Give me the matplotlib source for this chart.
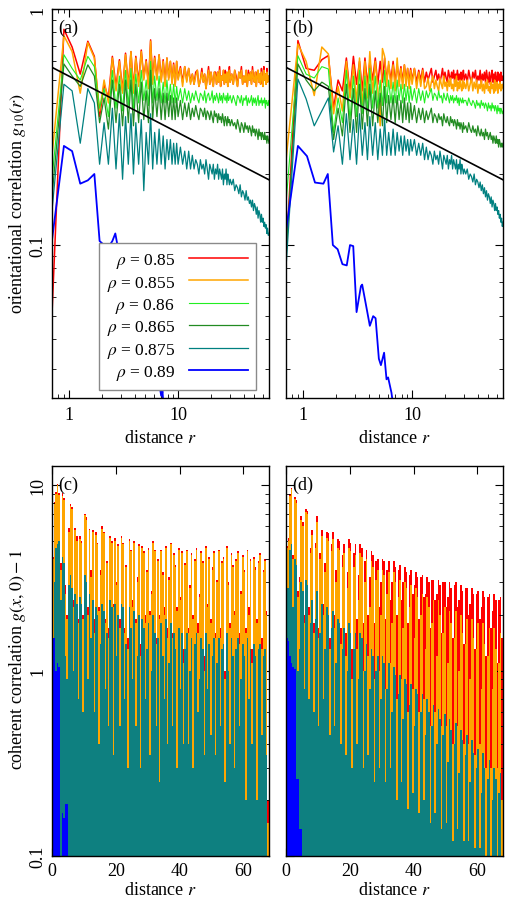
"""
Orientational and coherent correlations for several densities rho.
Four panels: (a),(b) g10(r) on log-log axes, (c),(d) g(x,0)-1 as impulses.
"""

import numpy as np
import matplotlib
matplotlib.use("Agg")
import matplotlib.pyplot as plt
from matplotlib.ticker import LogLocator, NullFormatter

plt.rcParams["font.family"] = ["Liberation Serif", "DejaVu Serif"]
plt.rcParams["mathtext.fontset"] = "stix"
plt.rcParams["font.size"] = 13

# ── Series styling ────────────────────────────────────────────────────────────
RHO    = ["0.85", "0.855", "0.86", "0.865", "0.875", "0.89"]
COLORS = ["#ff0000", "#ffa500", "#22ee22", "#228b22", "#008080", "#0000ff"]
LWS    = [1.1, 1.1, 0.8, 0.9, 0.9, 1.3]

# ── Top panels: g10(r) ───────────────────────────────────────────────────────
R = [0.7, 0.9, 1.07, 1.27, 1.49, 1.71, 1.91,
     2.1, 2.3, 2.5, 2.7, 2.9, 3.1, 3.3, 3.5, 3.7, 3.9, 4.1,
     4.35, 4.6, 4.85, 5.1, 5.35, 5.6, 5.85, 6.1,
     6.4, 6.7, 7.0, 7.3, 7.6, 7.9, 8.2, 8.5, 8.8, 9.1, 9.4, 9.7, 10.0,
     10.5, 11, 11.5, 12, 12.5, 13,
     13.5, 14, 14.5, 15, 15.5, 16, 16.5, 17, 17.5, 18, 18.5, 19, 19.5, 20, 20.5, 21, 21.5,
     22, 22.5, 23, 23.5, 24, 24.5, 25, 25.5, 26, 26.5, 27, 27.5, 28, 28.5, 29, 29.5, 30,
     31, 32, 33, 34, 35, 36, 37, 38, 39, 40, 41, 42, 43, 44, 45, 46, 47, 48, 49,
     50, 51, 52, 53, 54, 55, 56, 57, 58, 59, 60, 61, 62, 63, 64, 65, 66, 67, 68]

# panel (a)
G_A_085 = [0.051, 0.82, 0.69, 0.53, 0.73, 0.63, 0.35,
           0.48, 0.42, 0.63, 0.47, 0.61, 0.45, 0.65, 0.47, 0.66, 0.46, 0.63,
           0.49, 0.67, 0.51, 0.61, 0.48, 0.74, 0.50, 0.63,
           0.51, 0.64, 0.50, 0.61, 0.49, 0.62, 0.51, 0.60, 0.49, 0.59, 0.48, 0.60, 0.51,
           0.57, 0.49, 0.57, 0.50, 0.56, 0.49,
           0.53, 0.48, 0.54, 0.55, 0.47, 0.50, 0.56, 0.49, 0.53, 0.46, 0.51, 0.57, 0.48, 0.54, 0.50, 0.47, 0.54,
           0.54, 0.48, 0.54, 0.49, 0.57, 0.47, 0.52, 0.50, 0.55, 0.48, 0.55, 0.49, 0.54, 0.47, 0.52, 0.57, 0.49,
           0.53, 0.48, 0.55, 0.52, 0.47, 0.54, 0.51, 0.57, 0.48, 0.52, 0.49, 0.55, 0.47, 0.55, 0.50, 0.54, 0.48, 0.57, 0.51,
           0.49, 0.54, 0.47, 0.54, 0.55, 0.49, 0.53, 0.48, 0.56, 0.51, 0.47, 0.57, 0.50, 0.53, 0.48, 0.56, 0.49, 0.52, 0.50]
G_A_0855 = [0.24, 0.77, 0.66, 0.44, 0.72, 0.62, 0.37,
            0.50, 0.40, 0.62, 0.45, 0.60, 0.44, 0.64, 0.46, 0.66, 0.44, 0.62,
            0.47, 0.66, 0.50, 0.60, 0.46, 0.73, 0.48, 0.62,
            0.50, 0.64, 0.49, 0.60, 0.47, 0.62, 0.50, 0.60, 0.48, 0.58, 0.47, 0.60, 0.50,
            0.56, 0.47, 0.57, 0.49, 0.56, 0.48,
            0.53, 0.48, 0.52, 0.55, 0.47, 0.50, 0.54, 0.49, 0.53, 0.46, 0.51, 0.55, 0.48, 0.54, 0.50, 0.47, 0.54,
            0.52, 0.48, 0.54, 0.49, 0.55, 0.47, 0.52, 0.50, 0.55, 0.48, 0.53, 0.49, 0.54, 0.47, 0.52, 0.55, 0.49,
            0.53, 0.48, 0.55, 0.50, 0.47, 0.54, 0.51, 0.55, 0.48, 0.52, 0.49, 0.55, 0.47, 0.53, 0.50, 0.54, 0.48, 0.55, 0.51,
            0.49, 0.54, 0.47, 0.52, 0.55, 0.49, 0.53, 0.48, 0.54, 0.51, 0.47, 0.55, 0.50, 0.53, 0.48, 0.54, 0.49, 0.52, 0.50]
G_A_086 = [0.19, 0.64, 0.56, 0.50, 0.63, 0.57, 0.38,
           0.46, 0.35, 0.55, 0.38, 0.52, 0.37, 0.55, 0.39, 0.56, 0.38, 0.53,
           0.40, 0.55, 0.41, 0.50, 0.39, 0.60, 0.40, 0.52,
           0.41, 0.52, 0.40, 0.49, 0.40, 0.50, 0.41, 0.48, 0.40, 0.48, 0.40, 0.47, 0.41,
           0.46, 0.40, 0.46, 0.41, 0.45, 0.40,
           0.44, 0.41, 0.45, 0.42, 0.40, 0.44, 0.43, 0.41, 0.45, 0.40, 0.43, 0.44, 0.41, 0.42, 0.45, 0.40, 0.43,
           0.41, 0.44, 0.42, 0.40, 0.44, 0.41, 0.43, 0.40, 0.44, 0.42, 0.41, 0.43, 0.40, 0.44, 0.41, 0.42, 0.43,
           0.40, 0.43, 0.41, 0.39, 0.43, 0.42, 0.40, 0.43, 0.39, 0.42, 0.41, 0.43, 0.39, 0.42, 0.40, 0.41, 0.43, 0.39, 0.42,
           0.40, 0.42, 0.39, 0.41, 0.43, 0.39, 0.41, 0.40, 0.42, 0.39, 0.41, 0.40, 0.42, 0.38, 0.41, 0.40, 0.39, 0.41, 0.39]
G_A_0865 = [0.16, 0.585, 0.52, 0.47, 0.58, 0.52, 0.33,
            0.42, 0.31, 0.50, 0.33, 0.48, 0.32, 0.50, 0.33, 0.50, 0.32, 0.48,
            0.33, 0.49, 0.34, 0.45, 0.33, 0.55, 0.34, 0.46,
            0.35, 0.46, 0.34, 0.44, 0.34, 0.44, 0.35, 0.43, 0.34, 0.42, 0.34, 0.42, 0.35,
            0.41, 0.34, 0.40, 0.35, 0.40, 0.34,
            0.38, 0.35, 0.39, 0.36, 0.34, 0.38, 0.37, 0.35, 0.38, 0.34, 0.37, 0.36, 0.34, 0.37, 0.35, 0.33, 0.37,
            0.35, 0.36, 0.33, 0.36, 0.34, 0.35, 0.33, 0.36, 0.34, 0.32, 0.35, 0.34, 0.32, 0.35, 0.33, 0.34, 0.32,
            0.34, 0.32, 0.33, 0.31, 0.34, 0.32, 0.30, 0.33, 0.32, 0.30, 0.33, 0.31, 0.32, 0.30, 0.32, 0.31, 0.29, 0.32, 0.30,
            0.31, 0.29, 0.31, 0.30, 0.28, 0.31, 0.29, 0.30, 0.28, 0.30, 0.29, 0.28, 0.30, 0.28, 0.29, 0.27, 0.29, 0.28, 0.27]
G_A_0875 = [0.14, 0.48, 0.45, 0.27, 0.46, 0.40, 0.22,
            0.33, 0.22, 0.38, 0.21, 0.36, 0.19, 0.35, 0.22, 0.36, 0.20, 0.33,
            0.22, 0.34, 0.17, 0.30, 0.22, 0.36, 0.21, 0.30,
            0.22, 0.31, 0.22, 0.29, 0.21, 0.28, 0.23, 0.28, 0.22, 0.27, 0.22, 0.27, 0.22,
            0.26, 0.22, 0.25, 0.21, 0.25, 0.21,
            0.24, 0.21, 0.23, 0.22, 0.20, 0.23, 0.21, 0.22, 0.20, 0.23, 0.21, 0.19, 0.22, 0.21, 0.20, 0.22, 0.19,
            0.21, 0.20, 0.22, 0.19, 0.21, 0.20, 0.19, 0.21, 0.18, 0.20, 0.19, 0.21, 0.18, 0.20, 0.19, 0.18, 0.19,
            0.18, 0.19, 0.17, 0.18, 0.175, 0.165, 0.18, 0.16, 0.17, 0.165, 0.155, 0.17, 0.155, 0.16, 0.15, 0.155, 0.145, 0.155, 0.14,
            0.15, 0.145, 0.135, 0.145, 0.13, 0.14, 0.135, 0.125, 0.135, 0.125, 0.13, 0.12, 0.125, 0.118, 0.122, 0.112, 0.118, 0.11, 0.112]
R_A_089 = [0.7, 0.9, 1.07, 1.27, 1.49, 1.71, 1.91, 2.1, 2.3, 2.5, 2.66, 2.9, 3.1, 3.4,
           3.7, 4.0, 4.4, 4.8, 5.2, 5.6, 6.0, 6.4, 6.85, 7.0, 7.2, 7.5]
G_A_089 = [0.105, 0.263, 0.25, 0.182, 0.188, 0.2, 0.104, 0.1, 0.098, 0.104, 0.112, 0.09, 0.075, 0.08,
           0.062, 0.058, 0.05, 0.045, 0.04, 0.036, 0.032, 0.028, 0.0245, 0.023, 0.024, 0.018]

# panel (b)
G_B_085 = [0.09, 0.735, 0.56, 0.55, 0.61, 0.635, 0.38,
           0.50, 0.45, 0.62, 0.44, 0.63, 0.48, 0.60, 0.45, 0.62, 0.48, 0.60,
           0.50, 0.62, 0.48, 0.60, 0.49, 0.62, 0.50, 0.58,
           0.50, 0.60, 0.49, 0.58, 0.50, 0.57, 0.49, 0.58, 0.50, 0.56, 0.49, 0.56, 0.50,
           0.56, 0.49, 0.55, 0.50, 0.56, 0.49,
           0.54, 0.50, 0.53, 0.56, 0.49, 0.52, 0.55, 0.50, 0.53, 0.49, 0.52, 0.56, 0.50, 0.54, 0.51, 0.49, 0.55,
           0.52, 0.50, 0.54, 0.51, 0.55, 0.49, 0.53, 0.51, 0.55, 0.50, 0.53, 0.49, 0.54, 0.50, 0.52, 0.55, 0.50,
           0.53, 0.49, 0.55, 0.51, 0.49, 0.54, 0.51, 0.55, 0.49, 0.52, 0.50, 0.55, 0.48, 0.53, 0.50, 0.54, 0.49, 0.55, 0.51,
           0.49, 0.54, 0.48, 0.52, 0.55, 0.49, 0.53, 0.48, 0.54, 0.51, 0.48, 0.54, 0.50, 0.53, 0.49, 0.54, 0.50, 0.52, 0.50]
G_B_0855 = [0.228, 0.71, 0.60, 0.43, 0.69, 0.645, 0.36,
            0.47, 0.37, 0.60, 0.42, 0.58, 0.40, 0.62, 0.38, 0.60, 0.42, 0.66,
            0.44, 0.60, 0.46, 0.32, 0.68, 0.63, 0.47, 0.60,
            0.46, 0.58, 0.45, 0.62, 0.47, 0.56, 0.46, 0.58, 0.47, 0.56, 0.46, 0.55, 0.48,
            0.56, 0.46, 0.54, 0.47, 0.55, 0.46,
            0.47, 0.51, 0.45, 0.49, 0.52, 0.46, 0.50, 0.47, 0.45, 0.51, 0.48, 0.46, 0.52, 0.47, 0.49, 0.45, 0.50,
            0.47, 0.51, 0.46, 0.48, 0.45, 0.50, 0.47, 0.52, 0.45, 0.49, 0.46, 0.50, 0.47, 0.45, 0.50, 0.46, 0.49,
            0.46, 0.50, 0.45, 0.48, 0.51, 0.45, 0.49, 0.46, 0.50, 0.44, 0.48, 0.46, 0.50, 0.45, 0.48, 0.44, 0.49, 0.46, 0.50,
            0.45, 0.47, 0.44, 0.49, 0.46, 0.48, 0.44, 0.50, 0.45, 0.47, 0.49, 0.44, 0.48, 0.46, 0.49, 0.45, 0.47, 0.48, 0.46]
G_B_086 = [0.15, 0.634, 0.53, 0.51, 0.57, 0.557, 0.30,
           0.42, 0.33, 0.55, 0.34, 0.52, 0.35, 0.55, 0.36, 0.52, 0.37, 0.56,
           0.38, 0.52, 0.38, 0.50, 0.39, 0.55, 0.40, 0.50,
           0.40, 0.49, 0.40, 0.50, 0.41, 0.48, 0.40, 0.48, 0.41, 0.47, 0.40, 0.47, 0.41,
           0.46, 0.40, 0.46, 0.41, 0.45, 0.40,
           0.45, 0.42, 0.44, 0.46, 0.41, 0.44, 0.43, 0.41, 0.45, 0.42, 0.43, 0.40, 0.44, 0.42, 0.41, 0.44, 0.42,
           0.40, 0.43, 0.41, 0.43, 0.40, 0.42, 0.41, 0.43, 0.40, 0.42, 0.39, 0.42, 0.41, 0.40, 0.42, 0.40, 0.41,
           0.41, 0.39, 0.42, 0.40, 0.39, 0.41, 0.40, 0.38, 0.41, 0.39, 0.40, 0.38, 0.41, 0.39, 0.40, 0.38, 0.40, 0.39, 0.37,
           0.40, 0.38, 0.39, 0.37, 0.40, 0.38, 0.39, 0.37, 0.39, 0.38, 0.36, 0.39, 0.37, 0.38, 0.36, 0.38, 0.37, 0.36, 0.37]
G_B_0865 = [0.09, 0.585, 0.50, 0.45, 0.49, 0.47, 0.28,
            0.38, 0.29, 0.48, 0.30, 0.46, 0.30, 0.48, 0.31, 0.46, 0.32, 0.48,
            0.32, 0.45, 0.33, 0.44, 0.32, 0.47, 0.33, 0.43,
            0.34, 0.43, 0.33, 0.43, 0.34, 0.41, 0.33, 0.42, 0.34, 0.40, 0.33, 0.40, 0.34,
            0.39, 0.33, 0.38, 0.34, 0.38, 0.33,
            0.37, 0.34, 0.36, 0.38, 0.33, 0.36, 0.35, 0.33, 0.36, 0.34, 0.35, 0.32, 0.36, 0.34, 0.33, 0.35, 0.33,
            0.32, 0.35, 0.33, 0.34, 0.32, 0.34, 0.33, 0.31, 0.34, 0.32, 0.33, 0.31, 0.33, 0.32, 0.30, 0.33, 0.31,
            0.32, 0.30, 0.33, 0.31, 0.30, 0.32, 0.30, 0.31, 0.29, 0.32, 0.30, 0.29, 0.31, 0.29, 0.30, 0.28, 0.31, 0.29, 0.30,
            0.28, 0.29, 0.30, 0.28, 0.29, 0.27, 0.29, 0.28, 0.27, 0.29, 0.27, 0.28, 0.26, 0.28, 0.27, 0.26, 0.27, 0.26, 0.27]
G_B_0875 = [0.08, 0.505, 0.416, 0.32, 0.37, 0.42, 0.248,
            0.32, 0.22, 0.36, 0.23, 0.34, 0.22, 0.36, 0.24, 0.33, 0.23, 0.35,
            0.24, 0.33, 0.23, 0.31, 0.24, 0.34, 0.24, 0.30,
            0.24, 0.31, 0.24, 0.30, 0.25, 0.29, 0.24, 0.29, 0.25, 0.28, 0.24, 0.28, 0.25,
            0.28, 0.24, 0.27, 0.24, 0.27, 0.23,
            0.26, 0.23, 0.25, 0.24, 0.22, 0.25, 0.23, 0.24, 0.22, 0.25, 0.23, 0.21, 0.24, 0.23, 0.22, 0.24, 0.21,
            0.23, 0.22, 0.24, 0.21, 0.23, 0.22, 0.21, 0.23, 0.20, 0.22, 0.21, 0.23, 0.20, 0.22, 0.21, 0.20, 0.21,
            0.20, 0.21, 0.19, 0.20, 0.195, 0.185, 0.20, 0.18, 0.19, 0.185, 0.175, 0.185, 0.17, 0.18, 0.165, 0.175, 0.16, 0.17, 0.155,
            0.165, 0.16, 0.15, 0.16, 0.145, 0.155, 0.15, 0.14, 0.15, 0.14, 0.145, 0.135, 0.14, 0.13, 0.135, 0.125, 0.13, 0.12, 0.125]
R_B_089 = [0.7, 0.9, 1.09, 1.29, 1.54, 1.69, 1.88, 2.08, 2.3, 2.52, 2.7, 2.89, 3.1, 3.4,
           3.49, 3.83, 4.1, 4.4, 4.63, 4.96, 5.18, 5.54, 5.83, 6.03, 6.47, 6.9]
G_B_089 = [0.115, 0.263, 0.238, 0.184, 0.182, 0.2, 0.1, 0.096, 0.083, 0.082, 0.1, 0.099, 0.052, 0.067,
           0.068, 0.054, 0.0455, 0.05, 0.049, 0.033, 0.031, 0.035, 0.027, 0.0275, 0.0237, 0.019]

# power-law guide (black line), end points
GUIDE_R = [0.7, 68]
GUIDE_G = [0.566, 0.189]

# ── Bottom panels: g(x,0) - 1, bins of width 0.5 ─────────────────────────────
X_BIN = np.arange(0.25, 68.0, 0.5)

G_C_085 = [4.1, 8.1, 9.2, 10.2, 9.1, 3.8, 9.1, 8.5, 2.9, 2.0, 5.9, 7.9, 7.6, 2.4, 5.9, 5.3, 1.9,
           5.3, 5.0, 2.0, 7.0, 6.7, 2.2, 5.8, 3.5, 5.7, 1.9, 5.6, 4.9, 2.2, 3.5, 6.0, 5.6, 1.9,
           3.9, 1.7, 5.3, 5.0, 2.3, 5.2, 3.0, 4.8, 1.9, 5.3, 4.9, 1.7, 3.7, 1.5, 5.1, 4.5, 2.4,
           5.0, 1.9, 3.2, 4.8, 1.4, 4.7, 4.4, 2.0, 3.5, 4.6, 2.1, 2.7, 5.0, 4.5, 1.5, 4.0, 2.0,
           4.5, 3.4, 2.2, 4.7, 1.7, 3.2, 4.9, 1.6, 4.3, 3.7, 2.2, 4.6, 2.5, 4.4, 1.3, 3.8, 4.5,
           1.7, 2.9, 4.3, 2.0, 4.0, 4.6, 1.8, 2.6, 4.4, 3.9, 1.2, 4.7, 2.3, 4.1, 1.9, 3.6, 4.4,
           1.6, 3.1, 4.5, 1.7, 3.9, 4.1, 1.0, 4.7, 3.0, 1.8, 4.3, 3.7, 2.1, 4.0, 4.4, 1.6, 2.7,
           4.2, 3.5, 1.7, 4.5, 2.2, 4.0, 1.3, 4.1, 3.6, 1.9, 3.9, 4.3, 1.5, 3.5, 4.0, 2.1, 0.2]
G_C_0855 = [4.0, 7.9, 9.0, 10.0, 8.9, 3.5, 8.8, 8.3, 2.6, 1.9, 5.6, 7.7, 7.4, 2.2, 5.7, 5.0, 1.8,
            5.1, 4.9, 1.9, 6.9, 6.5, 2.0, 5.7, 3.2, 5.6, 1.6, 5.4, 4.8, 2.1, 3.3, 5.8, 5.5, 1.8,
            3.8, 1.5, 5.2, 4.9, 2.2, 5.0, 2.9, 4.7, 1.7, 5.2, 4.8, 1.6, 3.6, 1.3, 5.0, 4.4, 2.2,
            4.9, 1.8, 3.0, 4.7, 1.2, 4.6, 4.3, 1.8, 3.4, 4.5, 2.0, 2.6, 4.9, 4.4, 1.4, 3.9, 1.9,
            4.4, 3.3, 2.0, 4.6, 1.5, 3.1, 4.8, 1.5, 4.2, 3.6, 2.1, 4.5, 2.4, 4.3, 1.1, 3.7, 4.4,
            1.6, 2.8, 4.2, 1.9, 3.9, 4.5, 1.6, 2.5, 4.3, 3.8, 1.0, 4.6, 2.2, 4.0, 1.8, 3.5, 4.3,
            1.5, 3.0, 4.4, 1.5, 3.8, 4.0, 0.9, 4.6, 2.9, 1.7, 4.2, 3.6, 2.0, 3.9, 4.3, 1.4, 2.6,
            4.1, 3.4, 1.6, 4.4, 2.0, 3.9, 1.1, 4.0, 3.5, 1.8, 3.8, 4.2, 1.3, 3.4, 3.9, 2.0, 0.15]
G_C_0875 = [1.2, 3.0, 4.6, 4.8, 5.0, 2.4, 4.1, 3.8, 1.2, 0.9, 2.9, 3.3, 2.8, 1.0, 2.6, 2.3, 0.7,
            2.5, 2.3, 0.6, 3.3, 3.0, 0.9, 2.6, 1.5, 2.4, 0.6, 2.2, 2.0, 0.4, 1.4, 2.3, 2.1, 0.8,
            1.6, 0.5, 2.4, 2.2, 0.35, 2.3, 1.2, 2.0, 0.5, 2.3, 2.2, 0.7, 1.4, 0.3, 2.2, 1.7, 0.9,
            2.1, 0.5, 1.2, 2.0, 0.3, 1.9, 1.7, 0.7, 1.3, 1.8, 0.35, 1.0, 2.0, 1.6, 0.5, 1.5, 0.25,
            1.8, 1.2, 0.7, 1.9, 0.4, 1.1, 1.8, 0.5, 1.6, 1.3, 0.3, 1.7, 0.8, 1.6, 0.4, 1.3, 1.6,
            0.4, 1.0, 1.5, 0.3, 1.4, 1.6, 0.6, 0.9, 1.5, 1.3, 0.35, 1.6, 0.8, 1.4, 0.45, 1.2, 1.5,
            0.35, 1.1, 1.5, 0.5, 1.3, 1.4, 0.25, 1.6, 1.0, 0.4, 1.5, 1.2, 0.3, 1.3, 1.5, 0.5, 0.9,
            1.4, 1.2, 0.2, 1.5, 0.7, 1.3, 0.4, 1.4, 1.2, 0.2, 1.3, 1.4, 0.45, 1.2, 1.3, 0.35, 0.1]
X_C_089 = [0.25, 0.75, 1.25, 1.75, 2.25, 2.75, 3.25, 3.75, 4.25, 4.75]
G_C_089 = [1.5, 1.5, 1.0, 1.1, 1.05, 0.09, 0.17, 0.16, 0.19, 0.19]

G_D_085 = [4.7, 5.2, 9.0, 9.7, 4.2, 8.6, 8.3, 2.7, 3.2, 6.8, 6.3, 2.0, 7.4, 7.3, 2.2, 4.6, 5.7,
           1.8, 4.9, 6.8, 1.7, 4.3, 5.7, 2.3, 3.8, 5.6, 5.5, 1.5, 4.8, 5.6, 2.0, 3.5, 5.1, 5.0,
           1.7, 4.2, 4.8, 1.6, 3.4, 5.1, 4.9, 1.3, 4.3, 4.8, 1.9, 3.3, 4.8, 4.6, 1.8, 3.9, 4.5,
           2.0, 3.2, 4.4, 4.2, 1.8, 3.9, 4.0, 2.2, 3.0, 4.0, 3.9, 1.9, 3.5, 3.9, 2.4, 3.0, 3.9,
           3.6, 2.0, 3.5, 3.7, 2.4, 3.0, 3.6, 3.4, 1.8, 3.3, 3.5, 2.6, 2.9, 3.4, 3.2, 1.9, 3.2,
           3.3, 2.5, 2.6, 3.2, 3.0, 1.7, 3.1, 3.1, 2.4, 2.6, 3.1, 2.9, 1.6, 3.0, 3.0, 2.2, 2.5,
           3.0, 2.8, 1.5, 2.9, 3.0, 2.2, 2.4, 2.9, 2.7, 1.4, 2.8, 2.8, 2.0, 2.3, 2.8, 2.6, 1.3,
           2.6, 2.7, 1.9, 2.2, 2.7, 2.5, 1.2, 2.5, 2.6, 1.7, 2.1, 2.6, 2.4, 1.1, 2.4, 2.5, 1.5]
G_D_0855 = [4.6, 5.0, 8.8, 9.5, 4.0, 8.4, 8.0, 2.5, 3.0, 6.5, 6.0, 1.8, 7.2, 7.0, 2.0, 4.3, 5.4,
            1.6, 4.6, 6.3, 1.5, 4.0, 5.3, 2.0, 3.4, 5.2, 5.0, 1.3, 4.4, 5.1, 1.7, 3.0, 4.6, 4.5,
            1.4, 3.6, 4.3, 1.2, 2.8, 4.6, 4.4, 0.9, 3.6, 4.2, 1.3, 2.4, 4.3, 4.1, 1.0, 3.0, 4.0,
            1.2, 2.2, 3.9, 3.6, 0.9, 3.1, 3.5, 1.0, 2.0, 3.5, 3.3, 0.8, 2.6, 3.4, 1.1, 1.8, 3.4,
            3.0, 0.7, 2.5, 3.1, 0.9, 1.7, 3.0, 2.8, 0.6, 2.2, 2.9, 0.8, 1.5, 2.8, 2.5, 0.6, 2.0,
            2.6, 0.7, 1.3, 2.5, 2.2, 0.5, 1.8, 2.4, 0.6, 1.2, 2.4, 2.0, 0.5, 1.6, 2.2, 0.5, 1.1,
            2.1, 1.8, 0.4, 1.5, 2.1, 0.5, 1.0, 2.0, 1.6, 0.4, 1.4, 1.9, 0.4, 0.9, 1.9, 1.5, 0.35,
            1.3, 1.8, 0.4, 0.8, 1.8, 1.4, 0.3, 1.2, 1.7, 0.3, 0.8, 1.7, 1.3, 0.3, 1.1, 1.6, 0.2]
G_D_0875 = [2.8, 2.8, 4.5, 4.8, 2.2, 4.0, 3.7, 1.0, 1.3, 3.0, 2.7, 0.8, 3.1, 2.9, 0.7, 1.8, 2.4,
            0.6, 1.9, 2.7, 0.5, 1.6, 2.3, 0.7, 1.3, 2.2, 2.0, 0.45, 1.7, 2.1, 0.5, 1.1, 1.9, 1.8,
            0.4, 1.3, 1.7, 0.35, 1.0, 1.8, 1.6, 0.3, 1.3, 1.6, 0.4, 0.9, 1.6, 1.5, 0.3, 1.0, 1.4,
            0.35, 0.8, 1.3, 1.2, 0.25, 1.0, 1.2, 0.3, 0.7, 1.2, 1.1, 0.25, 0.8, 1.1, 0.3, 0.6, 1.05,
            0.95, 0.2, 0.75, 0.95, 0.25, 0.55, 0.9, 0.85, 0.18, 0.65, 0.85, 0.22, 0.5, 0.8, 0.75, 0.17, 0.6,
            0.75, 0.2, 0.45, 0.7, 0.6, 0.15, 0.5, 0.65, 0.17, 0.4, 0.62, 0.55, 0.14, 0.45, 0.58, 0.15, 0.32,
            0.55, 0.48, 0.12, 0.4, 0.52, 0.14, 0.28, 0.48, 0.42, 0.12, 0.35, 0.45, 0.12, 0.25, 0.42, 0.36, 0.11,
            0.3, 0.38, 0.11, 0.22, 0.36, 0.3, 0.1, 0.26, 0.33, 0.09, 0.2, 0.3, 0.26, 0.09, 0.22, 0.28, 0.08]
X_D_089 = [0.25, 0.75, 1.25, 1.75, 2.25, 2.75, 3.25, 3.75, 4.25, 4.75]
G_D_089 = [1.5, 1.45, 1.2, 1.1, 1.05, 1.02, 0.26, 0.26, 0.14, 0.14]

BAR_BASE = 1e-3


# ── Helpers ───────────────────────────────────────────────────────────────────

def style_frame(ax):
    ax.tick_params(which="both", direction="in", top=True, right=True)
    ax.tick_params(which="major", length=6, width=0.8)
    ax.tick_params(which="minor", length=3, width=0.6)
    ax.tick_params(axis="x", pad=6)
    ax.tick_params(axis="y", pad=4)
    for s in ax.spines.values():
        s.set_linewidth(1.0)


def draw_top(ax, series, r_blue, g_blue, tag, left):
    for vals, col, lw, rho in zip(series, COLORS[:5], LWS[:5], RHO[:5]):
        ax.plot(R, vals, color=col, lw=lw, label=rf"$\rho$ = {rho}")
    ax.plot(r_blue, g_blue, color=COLORS[5], lw=LWS[5], label=rf"$\rho$ = {RHO[5]}")
    ax.plot(GUIDE_R, GUIDE_G, color="black", lw=1.2)

    ax.set_xscale("log")
    ax.set_yscale("log")
    ax.set_xlim(0.7, 68)
    ax.set_ylim(0.0225, 1)
    ax.set_xticks([1, 10])
    ax.set_xticklabels(["1", "10"])
    ax.set_yticks([0.1, 1])
    ax.set_yticklabels(["0.1", "1"], rotation=90, va="center")
    ax.xaxis.set_minor_locator(LogLocator(base=10, subs=np.arange(2, 10)))
    ax.yaxis.set_minor_locator(LogLocator(base=10, subs=np.arange(2, 10)))
    ax.xaxis.set_minor_formatter(NullFormatter())
    ax.yaxis.set_minor_formatter(NullFormatter())
    style_frame(ax)
    if not left:
        ax.tick_params(labelleft=False)
    ax.set_xlabel("distance $r$", labelpad=4)
    ax.text(0.027, 0.975, tag, transform=ax.transAxes, ha="left", va="top")


def draw_bottom(ax, series, x_blue, g_blue, tag, left):
    ax.set_yscale("log")
    cols = [COLORS[0], COLORS[1], "#0e8080"]
    for z, (vals, col) in enumerate(zip(series, cols)):
        ax.bar(X_BIN, np.asarray(vals) - BAR_BASE, width=0.52, bottom=BAR_BASE,
               color=col, linewidth=0, zorder=1 + z)
    ax.bar(x_blue, np.asarray(g_blue) - BAR_BASE, width=0.52, bottom=BAR_BASE,
           color=COLORS[5], linewidth=0, zorder=5)

    ax.set_xlim(0, 68)
    ax.set_ylim(0.1, 12.7)
    ax.set_xticks([0, 20, 40, 60])
    ax.set_yticks([0.1, 1, 10])
    ax.set_yticklabels(["0.1", "1", "10"], rotation=90, va="center")
    ax.yaxis.set_minor_locator(LogLocator(base=10, subs=np.arange(2, 10)))
    ax.yaxis.set_minor_formatter(NullFormatter())
    style_frame(ax)
    ax.tick_params(axis="x", pad=4)
    for s in ax.spines.values():
        s.set_zorder(10)
    if not left:
        ax.tick_params(labelleft=False)
    ax.set_xlabel("distance $r$", labelpad=1.5)
    ax.text(0.027, 0.975, tag, transform=ax.transAxes, ha="left", va="top", zorder=12)


# ── Figure ────────────────────────────────────────────────────────────────────

W, H = 507, 903
fig = plt.figure(figsize=(W / 100, H / 100), dpi=100)

ax_a = fig.add_axes([52 / W, 1 - 399 / H, 217 / W, 389 / H])
ax_b = fig.add_axes([286 / W, 1 - 399 / H, 217 / W, 389 / H])
ax_c = fig.add_axes([52 / W, 1 - 857 / H, 217 / W, 390 / H])
ax_d = fig.add_axes([286 / W, 1 - 857 / H, 217 / W, 390 / H])

draw_top(ax_a, [G_A_085, G_A_0855, G_A_086, G_A_0865, G_A_0875],
         R_A_089, G_A_089, "(a)", True)
draw_top(ax_b, [G_B_085, G_B_0855, G_B_086, G_B_0865, G_B_0875],
         R_B_089, G_B_089, "(b)", False)
draw_bottom(ax_c, [G_C_085, G_C_0855, G_C_0875], X_C_089, G_C_089, "(c)", True)
draw_bottom(ax_d, [G_D_085, G_D_0855, G_D_0875], X_D_089, G_D_089, "(d)", False)

leg = ax_a.legend(loc="lower right", bbox_to_anchor=(0.94, 0.02), markerfirst=False,
                  frameon=True, fancybox=False, edgecolor="#8a8a8a", framealpha=1,
                  handlelength=3.4, handletextpad=0.8, labelspacing=0.2,
                  borderpad=0.45, borderaxespad=0, fontsize=12.5)
leg.get_frame().set_linewidth(1.0)
leg.set_zorder(20)

fig.text(18 / W, 1 - 204 / H, "orientational correlation $g_{10}(r)$",
         rotation=90, ha="center", va="center")
fig.text(18 / W, 1 - 660 / H, "coherent correlation $g(x,0)-1$",
         rotation=90, ha="center", va="center")

fig.savefig("out.png", dpi=100)
plt.close(fig)
